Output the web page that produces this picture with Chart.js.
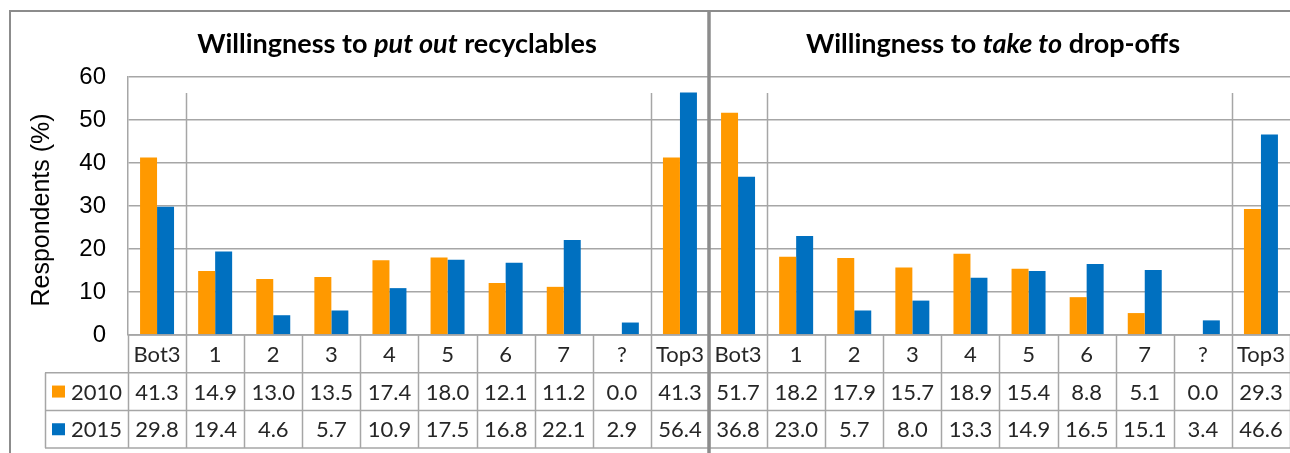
<!DOCTYPE html>
<html>
<head>
<meta charset="utf-8">
<script src="https://cdn.jsdelivr.net/npm/chart.js@4/dist/chart.umd.min.js"></script>
<style>
  html, body { margin: 0; padding: 0; background: #ffffff; }
  #wrap { width: 1290px; height: 453px; position: relative; }
</style>
</head>
<body>
<div id="wrap"><canvas id="chart" width="1290" height="453"></canvas></div>
<script>
// Response categories: the first ten belong to "put out", the last ten to "take to"
const categories = ['Bot3', '1', '2', '3', '4', '5', '6', '7', '?', 'Top3',
                    'Bot3', '1', '2', '3', '4', '5', '6', '7', '?', 'Top3'];
const seriesNames = ['2010', '2015'];

// Willingness to put out recyclables (% of respondents)
const putOut2010 = [41.3, 14.9, 13.0, 13.5, 17.4, 18.0, 12.1, 11.2, 0.0, 41.3];
const putOut2015 = [29.8, 19.4, 4.6, 5.7, 10.9, 17.5, 16.8, 22.1, 2.9, 56.4];

// Willingness to take to drop-offs (% of respondents)
const takeTo2010 = [51.7, 18.2, 17.9, 15.7, 18.9, 15.4, 8.8, 5.1, 0.0, 29.3];
const takeTo2015 = [36.8, 23.0, 5.7, 8.0, 13.3, 14.9, 16.5, 15.1, 3.4, 46.6];

const yTicks = [0, 10, 20, 30, 40, 50, 60];
const yAxisTitle = 'Respondents (%)';

const panelTitles = [
  [{ t: 'Willingness to ', i: false }, { t: 'put out', i: true }, { t: ' recyclables', i: false }],
  [{ t: 'Willingness to ', i: false }, { t: 'take to', i: true }, { t: ' drop-offs', i: false }]
];

const values2010 = putOut2010.concat(takeTo2010);
const values2015 = putOut2015.concat(takeTo2015);
const seriesValues = [values2010, values2015];
const seriesColors = ['#FF9900', '#0070C0'];

const LINE = '#a6a6a6';
const FRAME = '#8c8c8c';
const TEXT = '#262626';
const TABLE_FONT = '22px Lato';

// Frame, panel titles, separators and the data table underneath the bars
const decorations = {
  id: 'decorations',
  afterDraw(chart) {
    const ctx = chart.ctx;
    const xs = chart.scales.x;
    const ys = chart.scales.y;
    const area = chart.chartArea;
    const n = categories.length;
    const w = (xs.getPixelForValue(1) - xs.getPixelForValue(0));
    const edge = i => xs.getPixelForValue(0) - w / 2 + i * w;
    const base = ys.getPixelForValue(0);
    const rowH = 37.7;
    const rows = [base, base + rowH, base + 2 * rowH, base + 3 * rowH];
    const labelLeft = 45;

    ctx.save();

    // short separators inside the plot around Bot3 / Top3 groups
    ctx.strokeStyle = LINE;
    ctx.lineWidth = 1.5;
    [1, 9, 11, 19].forEach(i => {
      const x = Math.round(edge(i)) + 0.5;
      ctx.beginPath();
      ctx.moveTo(x, area.top + 16);
      ctx.lineTo(x, base);
      ctx.stroke();
    });

    // data table grid
    ctx.beginPath();
    ctx.moveTo(area.left, rows[0]); ctx.lineTo(area.right, rows[0]);
    for (let r = 1; r < 4; r++) {
      ctx.moveTo(labelLeft, rows[r]); ctx.lineTo(area.right, rows[r]);
    }
    for (let i = 0; i <= n; i++) {
      const x = Math.round(edge(i)) + 0.5;
      ctx.moveTo(x, rows[0]); ctx.lineTo(x, rows[3]);
    }
    ctx.moveTo(labelLeft + 0.5, rows[1]); ctx.lineTo(labelLeft + 0.5, rows[3]);
    ctx.stroke();

    // table text
    ctx.fillStyle = TEXT;
    ctx.font = TABLE_FONT;
    ctx.textAlign = 'center';
    ctx.textBaseline = 'middle';
    categories.forEach((c, i) => {
      ctx.fillText(c, xs.getPixelForValue(i), (rows[0] + rows[1]) / 2 + 1);
    });
    seriesValues.forEach((vals, r) => {
      const cy = (rows[r + 1] + rows[r + 2]) / 2 + 1;
      vals.forEach((v, i) => {
        ctx.fillText(v.toFixed(1), xs.getPixelForValue(i), cy);
      });
      // legend key and series name
      ctx.fillStyle = seriesColors[r];
      ctx.fillRect(52, cy - 7, 13, 12);
      ctx.fillStyle = TEXT;
      ctx.textAlign = 'left';
      ctx.fillText(seriesNames[r], 71, cy);
      ctx.textAlign = 'center';
    });

    // outer frame and the divider between the two panels
    ctx.strokeStyle = FRAME;
    ctx.lineWidth = 2;
    ctx.strokeRect(10, 11, 1400, 600);
    ctx.lineWidth = 3.5;
    ctx.beginPath();
    const mid = edge(10);
    ctx.moveTo(mid, 11); ctx.lineTo(mid, chart.height);
    ctx.stroke();

    // panel titles with italic verb phrase
    const titleCenters = [397, 993];
    ctx.fillStyle = '#000000';
    ctx.textBaseline = 'alphabetic';
    ctx.textAlign = 'left';
    panelTitles.forEach((parts, p) => {
      const fontFor = s => (s.i ? 'italic ' : '') + 'bold 27px Lato';
      let total = 0;
      parts.forEach(s => { ctx.font = fontFor(s); total += ctx.measureText(s.t).width; });
      let x = titleCenters[p] - total / 2;
      parts.forEach(s => {
        ctx.font = fontFor(s);
        ctx.fillText(s.t, x, 53);
        x += ctx.measureText(s.t).width;
      });
    });

    // y axis title
    ctx.translate(42, 210);
    ctx.rotate(-Math.PI / 2);
    ctx.font = '25px "Liberation Sans"';
    ctx.textAlign = 'center';
    ctx.textBaseline = 'middle';
    ctx.fillStyle = '#000000';
    ctx.fillText(yAxisTitle, 0, 0);

    ctx.restore();
  }
};

new Chart(document.getElementById('chart'), {
  type: 'bar',
  data: {
    labels: categories,
    datasets: seriesNames.map((name, k) => ({
      label: name,
      data: seriesValues[k],
      backgroundColor: seriesColors[k],
      borderWidth: 0,
      categoryPercentage: 0.585,
      barPercentage: 1.0
    }))
  },
  options: {
    responsive: false,
    animation: false,
    devicePixelRatio: 1,
    layout: { padding: { left: 10, top: 77, right: 0, bottom: 118 } },
    plugins: {
      legend: { display: false },
      tooltip: { enabled: false },
      title: { display: false }
    },
    scales: {
      x: { display: false },
      y: {
        min: yTicks[0],
        max: yTicks[yTicks.length - 1],
        afterFit(scale) { scale.width = 118; },
        afterBuildTicks(scale) { scale.ticks = yTicks.map(v => ({ value: v })); },
        ticks: {
          padding: 22,
          color: '#000000',
          font: { family: '"Liberation Sans"', size: 24 }
        },
        grid: { color: LINE, lineWidth: 1.5, drawTicks: false },
        border: { display: true, color: LINE, width: 1.5 }
      }
    }
  },
  plugins: [decorations]
});
</script>
</body>
</html>
